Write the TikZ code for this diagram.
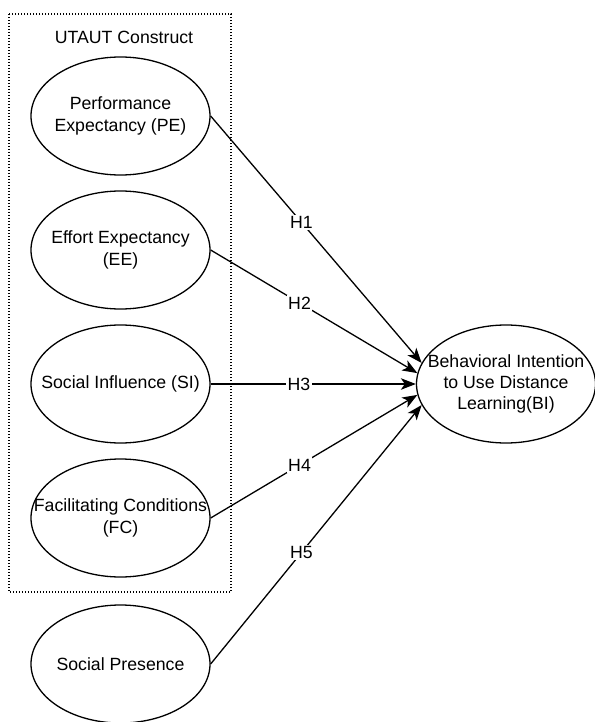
\documentclass[tikz,border=0pt]{standalone}
\usepackage{fontspec}
\setmainfont{Liberation Sans}
\usetikzlibrary{shapes.geometric,arrows.meta}

\begin{document}
\begin{tikzpicture}[x=1pt,y=-1pt,
        font=\fontsize{17.7}{21.2}\selectfont,
        construct/.style={draw,ellipse,line width=1.3pt,minimum width=179pt,minimum height=118pt,inner sep=0pt},
        caption/.style={align=center,inner sep=0pt},
        hyp/.style={line width=1.3pt,-{Stealth[length=15pt,width=11.5pt,inset=4pt]}},
        hlabel/.style={pos=0.43,fill=white,inner sep=1.5pt}]
        \useasboundingbox (0,0) rectangle (594,722);
        %% UTAUT group
        \draw[line width=1.2pt,dash pattern=on 1.2pt off 1.8pt] (9,14) rectangle (231,592);
        \node (utaut) at (124,37) {UTAUT Construct};
        %% Constructs
        \node[construct,label={[caption]center:Performance\\Expectancy (PE)}] (PE) at (120.5,116) {};
        \node[construct,label={[caption]center:Effort Expectancy\\(EE)}] (EE) at (120.5,250) {};
        \node[construct,label={[caption]center:Social Influence (SI)}] (SI) at (120.5,384) {};
        \node[construct,label={[caption]center:Facilitating Conditions\\(FC)}] (FC) at (120.5,518) {};
        \node[construct,label={[caption]center:Social Presence}] (SP) at (120.5,664) {};
        %% Behavioral intention
        \node[construct,label={[caption]center:Behavioral Intention\\to Use Distance\\Learning(BI)}] (BI) at (506,384) {};
        %% Hypotheses
        \draw[hyp] (PE.east) -- (BI.166) node[hlabel] {H1};
        \draw[hyp] (EE.east) -- (BI.173) node[hlabel] {H2};
        \draw[hyp] (SI.east) -- (BI.180) node[hlabel] {H3};
        \draw[hyp] (FC.east) -- (BI.187) node[hlabel] {H4};
        \draw[hyp] (SP.east) -- (BI.194) node[hlabel] {H5};
    \end{tikzpicture}
\end{document}
